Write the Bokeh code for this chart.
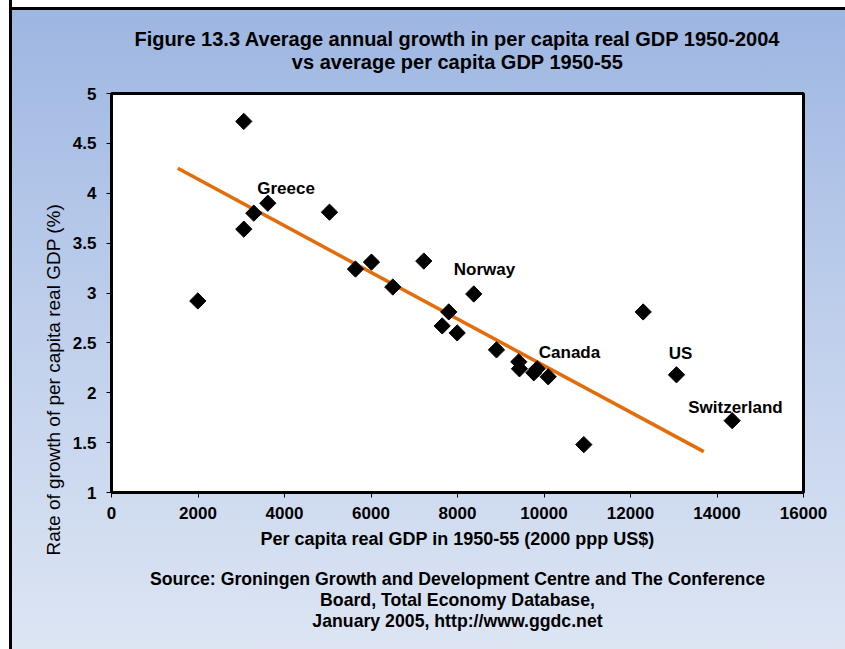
import numpy as np
from bokeh.plotting import figure
from bokeh.models import ColumnDataSource, FixedTicker, Range1d, Title, LinearAxis
from bokeh.embed import file_html
from bokeh.resources import INLINE
from bokeh.core.properties import value

# ---------------- data ----------------
gdp_1950_55 = [1995, 3059, 3059, 3290, 3614, 5040, 5641, 6011, 6504, 7221, 7646, 7798,
               7993, 8376, 8901, 9417, 9433, 9764, 9842, 10097, 10920, 12293, 13063, 14351]
growth = [2.92, 4.72, 3.64, 3.80, 3.90, 3.81, 3.24, 3.31, 3.06, 3.32, 2.67, 2.81,
          2.60, 2.99, 2.43, 2.31, 2.24, 2.20, 2.24, 2.16, 1.48, 2.81, 2.18, 1.72]
names = ["", "", "", "", "Greece", "", "", "", "", "", "", "",
         "", "Norway", "", "", "", "", "Canada", "", "", "", "US", "Switzerland"]
trend_x = [1533, 13695]
trend_y = [4.25, 1.41]
x_ticks = [0, 2000, 4000, 6000, 8000, 10000, 12000, 14000, 16000]
x_tick_labels = ["0", "2000", "4000", "6000", "8000", "10000", "12000", "14000", "16000"]
y_ticks = [1, 1.5, 2, 2.5, 3, 3.5, 4, 4.5, 5]
y_tick_labels = ["1", "1.5", "2", "2.5", "3", "3.5", "4", "4.5", "5"]

title_lines = ["Figure 13.3 Average annual growth in per capita real GDP 1950-2004",
               "vs average per capita GDP 1950-55"]
x_title = "Per capita real GDP in 1950-55 (2000 ppp US$)"
y_title = "Rate of growth of per capita real GDP (%)"
source_lines = ["Source: Groningen Growth and Development Centre and The Conference",
                "Board, Total Economy Database,",
                "January 2005, http://www.ggdc.net"]

# ---------------- styling ----------------
FONT = "Liberation Sans"
label_offsets = {"Greece": (-10.6, -14.5), "Norway": (-20, -24), "Canada": (1.6, -16.3),
                 "US": (-7.7, -21.2), "Switzerland": (-44, -13.3)}
source_standoffs = [-7, 5]

W, H = 845, 649
FL, FR, FT, FB = 111, 803, 93, 492

p = figure(width=W, height=H, x_range=Range1d(0, 16000), y_range=Range1d(1, 5),
           output_backend="svg", toolbar_location=None,
           min_border_left=FL, min_border_right=W - FR,
           min_border_top=FT, min_border_bottom=H - FB)
p.border_fill_color = None
p.background_fill_color = "white"
p.outline_line_color = "black"
p.outline_line_width = 3
p.grid.visible = False
p.styles = {"background": (
    "linear-gradient(to right, #ffffff 0px, #ffffff 9px, #000000 9px, #000000 12px, rgba(0,0,0,0) 12px), "
    "linear-gradient(to bottom, #ffffff 0px, #ffffff 7px, #000000 7px, #000000 10px, rgba(0,0,0,0) 10px), "
    "linear-gradient(to bottom, #9cb5e1 0%, #bccdeb 45%, #dde5f3 100%)")}

for ax in (p.xaxis[0], p.yaxis[0]):
    ax.axis_line_color = "black"
    ax.axis_line_width = 2
    ax.major_tick_out = 5
    ax.major_tick_in = 0
    ax.minor_tick_out = 0
    ax.minor_tick_in = 0
    ax.major_tick_line_color = "black"
    ax.major_tick_line_width = 1
    ax.major_label_text_font = FONT
    ax.major_label_text_font_style = "bold"
    ax.major_label_text_font_size = "17px"
    ax.major_label_text_color = "black"

p.xaxis.ticker = FixedTicker(ticks=x_ticks)
p.xaxis.major_label_overrides = {t: s for t, s in zip(x_ticks, x_tick_labels)}
p.xaxis.major_label_standoff = 9
p.xaxis.axis_label = x_title
p.xaxis.axis_label_text_font = FONT
p.xaxis.axis_label_text_font_style = "bold"
p.xaxis.axis_label_text_font_size = "18px"
p.xaxis.axis_label_text_color = "black"
p.xaxis.axis_label_standoff = 7

p.yaxis.ticker = FixedTicker(ticks=y_ticks)
p.yaxis.major_label_overrides = {t: s for t, s in zip(y_ticks, y_tick_labels)}
p.yaxis.major_label_standoff = 10

# trend line
p.line(trend_x, trend_y, line_color="#e46c0a", line_width=3.5)

# points
pts = ColumnDataSource(dict(x=gdp_1950_55, y=growth))
p.scatter("x", "y", source=pts, marker="square", angle=np.pi / 4, size=11.5,
          fill_color="black", line_color="black")

# country labels
lx, ly, lt, ox, oy = [], [], [], [], []
for xv, yv, nm in zip(gdp_1950_55, growth, names):
    if nm:
        lx.append(xv)
        ly.append(yv)
        lt.append(nm)
        ox.append(label_offsets[nm][0])
        oy.append(label_offsets[nm][1])
lab = ColumnDataSource(dict(x=lx, y=ly, t=lt, ox=ox, oy=oy))
p.text("x", "y", text="t", x_offset="ox", y_offset="oy", source=lab,
       text_font=value(FONT), text_font_style="bold", text_font_size="17px",
       text_align="left", text_baseline="middle", text_color="black")


def text_axis(label, standoff, size):
    """A tick-less axis used only to carry one centred line of text."""
    return LinearAxis(ticker=FixedTicker(ticks=[]), axis_label=label,
                      axis_line_color=None, major_tick_out=0, major_tick_in=0,
                      minor_tick_out=0, minor_tick_in=0, major_label_standoff=0,
                      axis_label_standoff=standoff, axis_label_text_font=FONT,
                      axis_label_text_font_style="bold", axis_label_text_font_size=size,
                      axis_label_text_color="black")


# title: line 2 carried by an axis above the frame, line 1 a Title above it
p.add_layout(text_axis(title_lines[1], 21, "20px"), "above")
p.add_layout(Title(text=title_lines[0], align="center", text_font=FONT,
                   text_font_style="bold", text_font_size="20px",
                   text_color="black", standoff=-5), "above")

# y axis title, placed on the left, starting below the frame bottom
p.add_layout(Title(text=y_title, align="left", offset=-63, text_font=FONT,
                   text_font_style="normal", text_font_size="19px", text_color="black",
                   standoff=12), "left")

# source lines
p.add_layout(text_axis(source_lines[0], 17, "17.7px"), "below")
for line, so in zip(source_lines[1:], source_standoffs):
    p.add_layout(Title(text=line, align="center", text_font=FONT,
                       text_font_style="bold", text_font_size="17.7px",
                       text_color="black", standoff=so), "below")

open("out.html", "w").write(file_html(p, INLINE))
